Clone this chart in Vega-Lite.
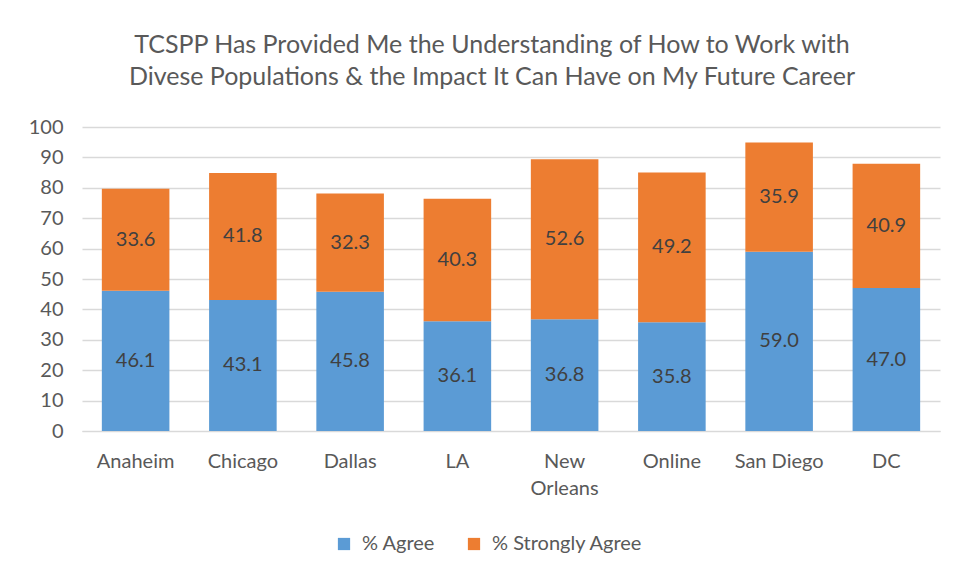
{
  "$schema": "https://vega.github.io/schema/vega-lite/v6.json",
  "width": 858,
  "height": 304,
  "autosize": {"type": "none"},
  "padding": {"left": 82, "top": 127, "right": 19, "bottom": 147},
  "background": "white",
  "title": {
    "text": ["TCSPP Has Provided Me the Understanding of How to Work with", "Divese Populations & the Impact It Can Have on My Future Career"],
    "font": "Lato",
    "fontSize": 25,
    "fontWeight": "normal",
    "color": "#595959",
    "anchor": "middle",
    "lineHeight": 32,
    "offset": 27,
    "dx": -19
  },
  "data": {
    "values": [
      {"city": "Anaheim", "type": "% Agree", "pct": 46.1},
      {"city": "Anaheim", "type": "% Strongly Agree", "pct": 33.6},
      {"city": "Chicago", "type": "% Agree", "pct": 43.1},
      {"city": "Chicago", "type": "% Strongly Agree", "pct": 41.8},
      {"city": "Dallas", "type": "% Agree", "pct": 45.8},
      {"city": "Dallas", "type": "% Strongly Agree", "pct": 32.3},
      {"city": "LA", "type": "% Agree", "pct": 36.1},
      {"city": "LA", "type": "% Strongly Agree", "pct": 40.3},
      {"city": "New Orleans", "type": "% Agree", "pct": 36.8},
      {"city": "New Orleans", "type": "% Strongly Agree", "pct": 52.6},
      {"city": "Online", "type": "% Agree", "pct": 35.8},
      {"city": "Online", "type": "% Strongly Agree", "pct": 49.2},
      {"city": "San Diego", "type": "% Agree", "pct": 59.0},
      {"city": "San Diego", "type": "% Strongly Agree", "pct": 35.9},
      {"city": "DC", "type": "% Agree", "pct": 47.0},
      {"city": "DC", "type": "% Strongly Agree", "pct": 40.9}
    ]
  },
  "encoding": {
    "x": {
      "field": "city",
      "type": "nominal",
      "sort": null,
      "title": null,
      "scale": {"paddingInner": 0.37, "paddingOuter": 0.185},
      "axis": {
        "labelAngle": 0,
        "labelFont": "Lato",
        "labelFontSize": 20,
        "labelColor": "#595959",
        "labelPadding": 20,
        "ticks": false,
        "domainColor": "#d9d9d9",
        "labelExpr": "datum.label == 'New Orleans' ? ['New', 'Orleans'] : datum.label",
        "labelLineHeight": 27
      }
    }
  },
  "layer": [
    {
      "mark": {"type": "bar"},
      "encoding": {
        "y": {
          "field": "pct",
          "type": "quantitative",
          "stack": "zero",
          "title": null,
          "scale": {"domain": [0, 100]},
          "axis": {
            "values": [0, 10, 20, 30, 40, 50, 60, 70, 80, 90, 100],
            "labelOverlap": false,
            "labelFont": "Lato",
            "labelFontSize": 20,
            "labelColor": "#595959",
            "labelPadding": 19,
            "ticks": false,
            "domain": false,
            "gridColor": "#d9d9d9",
            "gridWidth": 1.3
          }
        },
        "color": {
          "field": "type",
          "type": "nominal",
          "title": null,
          "scale": {"domain": ["% Agree", "% Strongly Agree"], "range": ["#5B9BD5", "#ED7D31"]},
          "legend": {
            "orient": "none",
            "direction": "horizontal",
            "legendX": 252,
            "legendY": 407,
            "symbolType": "square",
            "symbolSize": 150,
            "symbolStrokeWidth": 0,
            "labelFont": "Lato",
            "labelFontSize": 20,
            "labelColor": "#595959",
            "columnPadding": 28,
            "labelOffset": 8
          }
        },
        "order": {"field": "type", "sort": "ascending"}
      }
    },
    {
      "transform": [
        {"stack": "pct", "groupby": ["city"], "sort": [{"field": "type", "order": "ascending"}], "as": ["y0", "y1"]},
        {"fold": ["y0", "y1"], "as": ["k", "pos"]},
        {"aggregate": [{"op": "mean", "field": "pos", "as": "mid"}], "groupby": ["city", "type", "pct"]}
      ],
      "mark": {"type": "text", "font": "Lato", "fontSize": 20, "color": "#404040", "baseline": "middle"},
      "encoding": {
        "y": {
          "field": "mid",
          "type": "quantitative",
          "title": null,
          "axis": {
            "values": [0, 10, 20, 30, 40, 50, 60, 70, 80, 90, 100],
            "labelOverlap": false,
            "labelFont": "Lato",
            "labelFontSize": 20,
            "labelColor": "#595959",
            "labelPadding": 19,
            "ticks": false,
            "domain": false,
            "gridColor": "#d9d9d9",
            "gridWidth": 1.3
          }
        },
        "text": {"field": "pct", "type": "quantitative", "format": ".1f"}
      }
    }
  ],
  "config": {"view": {"stroke": null}}
}
